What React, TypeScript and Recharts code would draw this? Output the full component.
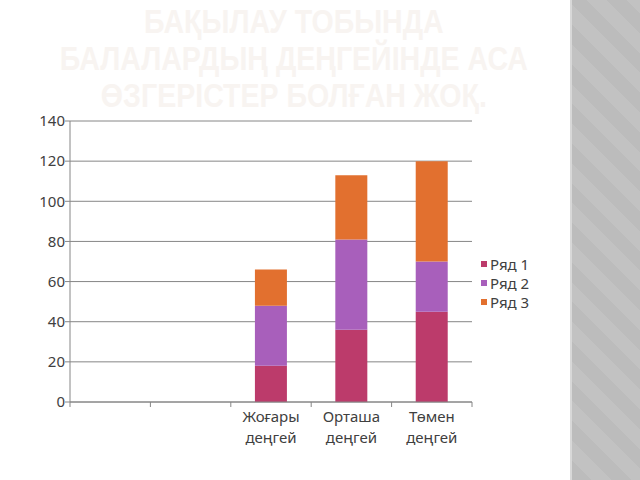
import React from 'react';
import { BarChart, Bar, XAxis, YAxis, CartesianGrid } from 'recharts';

const categories = ['', '', 'Жоғары деңгей', 'Орташа деңгей', 'Төмен деңгей'];
const ryad1 = [null, null, 18, 36, 45];
const ryad2 = [null, null, 30, 45, 25];
const ryad3 = [null, null, 18, 32, 50];
const yTicks = [0, 20, 40, 60, 80, 100, 120, 140];
const seriesNames = ['Ряд 1', 'Ряд 2', 'Ряд 3'];
const seriesColors = ['#bc3b6b', '#a85fbb', '#e2702f'];
const titleLines = ['БАҚЫЛАУ ТОБЫНДА', 'БАЛАЛАРДЫҢ ДЕҢГЕЙІНДЕ АСА', 'ӨЗГЕРІСТЕР БОЛҒАН ЖОҚ.'];

const data = categories.map((name, i) => ({
  name,
  r1: ryad1[i],
  r2: ryad2[i],
  r3: ryad3[i],
}));

const font = '"Noto Sans", "DejaVu Sans", sans-serif';
const axisColor = '#868686';

// category label in two lines, with the tick marks on the band edges
const CategoryTick = (props: any) => {
  const { x, y, payload, index } = props;
  const band = 80.4;
  const words = String(payload.value).split(' ');
  return (
    <g>
      <line x1={x - band / 2} y1={y - 8} x2={x - band / 2} y2={y - 3} stroke={axisColor} />
      {index === categories.length - 1 && (
        <line x1={x + band / 2} y1={y - 8} x2={x + band / 2} y2={y - 3} stroke={axisColor} />
      )}
      <text x={x} y={y} textAnchor="middle" fill="#404040" fontSize={15} fontFamily={font}>
        {words.map((w, i) => (
          <tspan key={i} x={x} dy={i === 0 ? 12 : 21}>
            {w}
          </tspan>
        ))}
      </text>
    </g>
  );
};

const App = () => {
  return (
    <div style={{ position: 'fixed', left: 0, top: 0, width: 640, height: 480, background: '#fff', overflow: 'hidden' }}>
      <div
        style={{
          position: 'absolute',
          left: 0,
          top: 3,
          width: 588,
          textAlign: 'center',
          fontFamily: '"Liberation Sans", Arial, sans-serif',
          fontWeight: 'bold',
          fontSize: 33,
          lineHeight: '37px',
          color: '#f8f4f1',
          transform: 'scaleX(0.865)',
          transformOrigin: '293px 0',
        }}
      >
        {titleLines.map((l, i) => (
          <div key={i}>{l}</div>
        ))}
      </div>

      <div
        style={{
          position: 'absolute',
          left: 570,
          top: 0,
          width: 70,
          height: 480,
          borderLeft: '2px solid #d8d8d8',
          background:
            'repeating-linear-gradient(45deg, #bcbcbc 0px, #bcbcbc 14px, #c2c2c2 14px, #c2c2c2 28px), #bdbdbd',
        }}
      />

      <div style={{ position: 'absolute', left: 0, top: 0 }}>
        <BarChart width={480} height={480} data={data} margin={{ top: 121, right: 8, bottom: 18, left: 0 }} barCategoryGap="30%">
          <CartesianGrid vertical={false} stroke={axisColor} strokeDasharray="" />
          <XAxis
            dataKey="name"
            height={60}
            interval={0}
            tickLine={false}
            axisLine={{ stroke: axisColor }}
            tick={<CategoryTick />}
          />
          <YAxis
            width={70}
            domain={[0, 140]}
            ticks={yTicks}
            interval={0}
            tickSize={5}
            tickMargin={0}
            axisLine={{ stroke: axisColor }}
            tickLine={{ stroke: axisColor }}
            tick={{ fill: '#404040', fontSize: 15, fontFamily: font }}
          />
          <Bar dataKey="r1" stackId="a" fill={seriesColors[0]} name={seriesNames[0]} isAnimationActive={false} />
          <Bar dataKey="r2" stackId="a" fill={seriesColors[1]} name={seriesNames[1]} isAnimationActive={false} />
          <Bar dataKey="r3" stackId="a" fill={seriesColors[2]} name={seriesNames[2]} isAnimationActive={false} />
        </BarChart>
      </div>

      <div style={{ position: 'absolute', left: 481, top: 254, fontFamily: font, fontSize: 15, color: '#404040' }}>
        {seriesNames.map((n, i) => (
          <div key={n} style={{ display: 'flex', alignItems: 'center', height: 19 }}>
            <span style={{ width: 6, height: 6, background: seriesColors[i], marginRight: 3 }} />
            {n}
          </div>
        ))}
      </div>
    </div>
  );
};

export default App;
